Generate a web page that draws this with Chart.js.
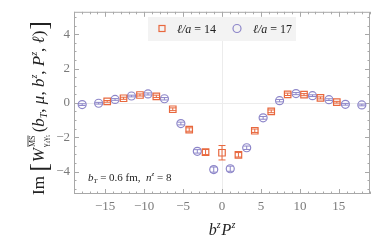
<!DOCTYPE html>
<html>
<head>
<meta charset="utf-8">
<script src="https://cdn.jsdelivr.net/npm/chart.js@4/dist/chart.umd.min.js"></script>
<style>
  html,body{margin:0;padding:0;background:#fff;}
  #c{display:block;}
</style>
</head>
<body>
<canvas id="c" width="382" height="243"></canvas>
<script>
// data
const orangeX = [-14.74,-12.64,-10.53,-8.43,-6.32,-4.21,-2.11,0,2.11,4.21,6.32,8.43,10.53,12.64,14.74];
const orangeY = [0.09,0.27,0.46,0.38,-0.37,-1.55,-2.86,-2.9,-3.02,-1.62,-0.49,0.5,0.48,0.29,0.04];
const orangeErr = [0.05,0.06,0.06,0.07,0.08,0.1,0.15,0.42,0.13,0.1,0.08,0.07,0.06,0.06,0.05];

const purpleX = [-17.95,-15.84,-13.73,-11.62,-9.5,-7.39,-5.28,-3.17,-1.06,1.06,3.17,5.28,7.39,9.5,11.62,13.73,15.84,17.95];
const purpleY = [-0.1,-0.02,0.2,0.4,0.52,0.24,-1.2,-2.82,-3.88,-3.83,-2.61,-0.87,0.13,0.54,0.42,0.19,-0.08,-0.12];
const purpleErr = [0.05,0.05,0.05,0.05,0.06,0.07,0.08,0.1,0.15,0.15,0.1,0.08,0.07,0.06,0.05,0.05,0.05,0.05];

const xTicks = [-15,-10,-5,0,5,10,15];
const yTicks = [-4,-2,0,2,4];
const labels = ["14","17"];

const orange = "#e8683e";
const purple = "#8d86c9";
const serif = "'Liberation Serif','DejaVu Serif',serif";

function toPts(xs,ys){ return xs.map((x,i)=>({x:x,y:ys[i]})); }

// draw a sequence of text runs, returns width
function runs(ctx,items,x,y,measureOnly){
  let w=0;
  items.forEach(r=>{
    ctx.font=r.f;
    const rw=ctx.measureText(r.t).width;
    if(!measureOnly){
      ctx.fillText(r.t,x+w,y+(r.dy||0));
      if(r.over){
        ctx.beginPath();
        ctx.lineWidth=0.8;
        ctx.moveTo(x+w,y+(r.dy||0)-r.over);
        ctx.lineTo(x+w+rw,y+(r.dy||0)-r.over);
        ctx.stroke();
      }
    }
    if(!r.stay) w+=rw+(r.gap||0);
  });
  return w;
}

const errorBars = {
  id:"errorBars",
  afterDatasetsDraw(chart){
    const ctx=chart.ctx, ys=chart.scales.y;
    const errs=[orangeErr,purpleErr];
    chart.data.datasets.forEach((ds,di)=>{
      const meta=chart.getDatasetMeta(di);
      ctx.save();
      ctx.strokeStyle=ds.borderColor;
      ctx.lineWidth=1;
      meta.data.forEach((p,i)=>{
        const v=ds.data[i].y, e=errs[di][i];
        const y1=ys.getPixelForValue(v+e), y2=ys.getPixelForValue(v-e);
        const cap=3.5;
        ctx.beginPath();
        ctx.moveTo(p.x,y1); ctx.lineTo(p.x,y2);
        ctx.moveTo(p.x-cap,y1); ctx.lineTo(p.x+cap,y1);
        ctx.moveTo(p.x-cap,y2); ctx.lineTo(p.x+cap,y2);
        ctx.stroke();
      });
      ctx.restore();
    });
  }
};

const frame = {
  id:"frame",
  beforeDatasetsDraw(chart){
    const ctx=chart.ctx, a=chart.chartArea, xs=chart.scales.x, ys=chart.scales.y;
    ctx.save();
    // faint axes through origin
    ctx.strokeStyle="#ececec"; ctx.lineWidth=1;
    const x0=Math.round(xs.getPixelForValue(0))+0.5, y0=Math.round(ys.getPixelForValue(0))+0.5;
    ctx.beginPath();
    ctx.moveTo(x0,a.top); ctx.lineTo(x0,a.bottom);
    ctx.moveTo(a.left,y0); ctx.lineTo(a.right,y0);
    ctx.stroke();
    // frame
    ctx.strokeStyle="#a8a8a8";
    ctx.strokeRect(a.left+0.5,a.top+0.5,a.right-a.left-1,a.bottom-a.top-1);
    // inside ticks
    ctx.beginPath();
    for(let v=-19; v<=19; v++){
      const px=Math.round(xs.getPixelForValue(v))+0.5;
      const L = v%5===0 ? 5 : 2.5;
      ctx.moveTo(px,a.bottom); ctx.lineTo(px,a.bottom-L);
      ctx.moveTo(px,a.top); ctx.lineTo(px,a.top+L);
    }
    for(let v=-5; v<=5; v+=0.5){
      const py=Math.round(ys.getPixelForValue(v))+0.5;
      const L = v%2===0 ? 5 : 2.5;
      ctx.moveTo(a.left,py); ctx.lineTo(a.left+L,py);
      ctx.moveTo(a.right,py); ctx.lineTo(a.right-L,py);
    }
    ctx.stroke();
    ctx.restore();
  },
  afterDraw(chart){
    const ctx=chart.ctx, ds=chart.data.datasets;
    ctx.save();
    // legend box
    ctx.fillStyle="#f3f3f3";
    ctx.fillRect(148,17,148,24);
    ctx.lineWidth=1.2;
    ctx.strokeStyle=ds[0].borderColor;
    ctx.strokeRect(159,25.5,6,6);
    ctx.strokeStyle=ds[1].borderColor;
    ctx.beginPath(); ctx.arc(237,28.5,4,0,Math.PI*2); ctx.stroke();
    ctx.fillStyle="#222"; ctx.strokeStyle="#222"; ctx.textBaseline="alphabetic";
    const it="italic 12px "+serif, up="12px "+serif;
    runs(ctx,[{t:"ℓ/a",f:it},{t:" = "+labels[0],f:up}],177,33);
    runs(ctx,[{t:"ℓ/a",f:it},{t:" = "+labels[1],f:up}],253,33);

    // annotation
    const ai="italic 11px "+serif, au="11px "+serif, as="italic 7px "+serif;
    runs(ctx,[{t:"b",f:ai},{t:"T",f:as,dy:2},{t:" = 0.6 fm,  ",f:au},{t:"n",f:ai},{t:"z",f:as,dy:-5},{t:" = 8",f:au}],88,181);

    // x title
    const xi="italic 16px "+serif, xs2="italic 10px "+serif;
    const xr=[{t:"b",f:xi},{t:"z",f:xs2,dy:-7,gap:1},{t:"P",f:xi},{t:"z",f:xs2,dy:-7}];
    const xw=runs(ctx,xr,0,0,true);
    runs(ctx,xr,222-xw/2,235);

    // y title
    ctx.translate(44,108);
    ctx.rotate(-Math.PI/2);
    const b="17px "+serif, bi="italic 17px "+serif, smi="italic 10px "+serif, br="26px "+serif;
    const yr=[
      {t:"Im ",f:b},{t:"[",f:br,dy:3,gap:1},{t:"W",f:bi,gap:1},
      {t:"MS",f:"8px "+serif,dy:-9,over:7,stay:true},
      {t:"γ₄γ₅",f:"8px "+serif,dy:4,gap:2},
      {t:"(",f:b},{t:"b",f:bi},{t:"T",f:smi,dy:3},{t:", ",f:b},{t:"μ",f:bi},{t:", ",f:b},
      {t:"b",f:bi},{t:"z",f:smi,dy:-7},{t:", ",f:b},{t:"P",f:bi},{t:"z",f:smi,dy:-7},{t:", ",f:b},
      {t:"ℓ",f:bi},{t:")",f:b,gap:1},{t:"]",f:br,dy:3}
    ];
    const yw=runs(ctx,yr,0,0,true);
    runs(ctx,yr,-yw/2,0);
    ctx.restore();
  }
};

new Chart(document.getElementById("c"),{
  type:"scatter",
  data:{
    datasets:[
      {label:"ℓ/a = "+labels[0],data:toPts(orangeX,orangeY),pointStyle:"rect",pointRadius:4.6,
       borderColor:orange,backgroundColor:"rgba(0,0,0,0)",pointBorderWidth:1.2},
      {label:"ℓ/a = "+labels[1],data:toPts(purpleX,purpleY),pointStyle:"circle",pointRadius:4,
       borderColor:purple,backgroundColor:"rgba(0,0,0,0)",pointBorderWidth:1.2}
    ]
  },
  options:{
    responsive:false,
    animation:false,
    layout:{padding:{top:11,right:12,left:0,bottom:0}},
    plugins:{legend:{display:false},tooltip:{enabled:false}},
    scales:{
      x:{
        type:"linear",min:-19,max:19,
        afterBuildTicks:s=>{s.ticks=xTicks.map(v=>({value:v}));},
        afterFit:s=>{s.height=49;},
        grid:{display:false,drawTicks:false},
        border:{display:false},
        ticks:{color:"#7a7a7a",padding:5,font:{family:serif,size:13},maxRotation:0,
               callback:v=>v<0?"−"+Math.abs(v):String(v)}
      },
      y:{
        type:"linear",min:-5.3,max:5.3,
        afterBuildTicks:s=>{s.ticks=yTicks.map(v=>({value:v}));},
        afterFit:s=>{s.width=74;},
        grid:{display:false,drawTicks:false},
        border:{display:false},
        ticks:{color:"#7a7a7a",padding:4,font:{family:serif,size:13},
               callback:v=>v<0?"−"+Math.abs(v):String(v)}
      }
    }
  },
  plugins:[frame,errorBars]
});
</script>
</body>
</html>
